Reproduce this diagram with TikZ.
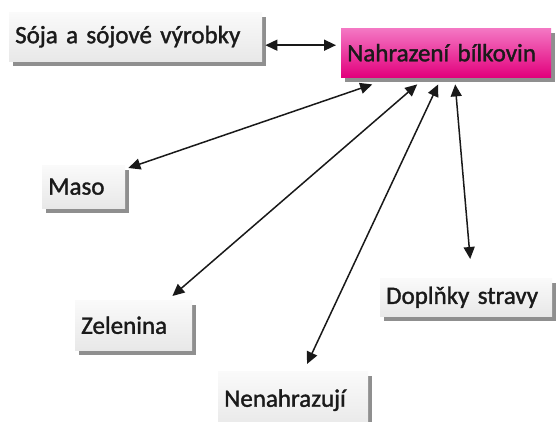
\documentclass[tikz,border=0pt]{standalone}
\usepackage{fontspec}
\setmainfont{Carlito}
\newfontfamily\boxfont{Carlito}[FakeBold=1.4]
\usetikzlibrary{arrows.meta,shadows}

\definecolor{boxtop}{RGB}{250,250,250}
\definecolor{boxbot}{RGB}{232,232,232}
\definecolor{pinktop}{RGB}{244,120,196}
\definecolor{pinkmid}{RGB}{236,28,146}
\definecolor{pinkbot}{RGB}{226,0,124}
\definecolor{inkcol}{RGB}{26,26,26}

\tikzset{
  topicbox/.style={anchor=north west, align=left, inner xsep=6pt, inner ysep=0pt,
    top color=boxtop, bottom color=boxbot, draw=none,
    font=\boxfont\fontsize{25}{29}\selectfont, text=inkcol,
    drop shadow={shadow xshift=4pt, shadow yshift=-5pt, fill=black!55, opacity=0.8}},
  mainbox/.style={topicbox, top color=pinktop, middle color=pinkmid, bottom color=pinkbot,
    shading angle=0},
  link/.style={line width=1.5pt, draw=black!90,
    {Triangle[length=12pt,width=11pt]}-{Triangle[length=12pt,width=11pt]}}
}

\begin{document}
\begin{tikzpicture}[x=1pt,y=1pt]
  \useasboundingbox[fill=white] (0,0) rectangle (557,421);

  % topic boxes
  \node[mainbox, text width=198pt, minimum height=49pt] (nahr) at (341,393) {Nahrazení bílkovin};
  \node[topicbox, text width=241pt, minimum height=49pt] (soja) at (9,409) {Sója a sójové výrobky};
  \node[topicbox, text width=71pt, minimum height=43pt] (maso) at (42,256) {Maso};
  \node[topicbox, text width=105pt, minimum height=50pt] (zel) at (75,121) {Zelenina};
  \node[topicbox, text width=160pt, minimum height=38pt] (dopl) at (380,143) {Doplňky stravy};
  \node[topicbox, text width=138pt, minimum height=58pt] (nen) at (218,50) {Nenahrazují};

  % two-way links to the central topic
  \draw[link] ([xshift=3pt,yshift=-8.5pt]soja.east) -- ([xshift=-5pt,yshift=7.5pt]nahr.west);
  \draw[link] ([xshift=3pt,yshift=-3pt]maso.north east) -- ([xshift=-74pt,yshift=-7pt]nahr.south);
  \draw[link] ([xshift=-20pt,yshift=4pt]zel.north east) -- ([xshift=-29pt,yshift=-7pt]nahr.south);
  \draw[link] ([xshift=89pt,yshift=7pt]nen.north west) -- ([xshift=-8pt,yshift=-7pt]nahr.south);
  \draw[link] ([xshift=4pt,yshift=19pt]dopl.north) -- ([xshift=9pt,yshift=-7pt]nahr.south);
\end{tikzpicture}
\end{document}
